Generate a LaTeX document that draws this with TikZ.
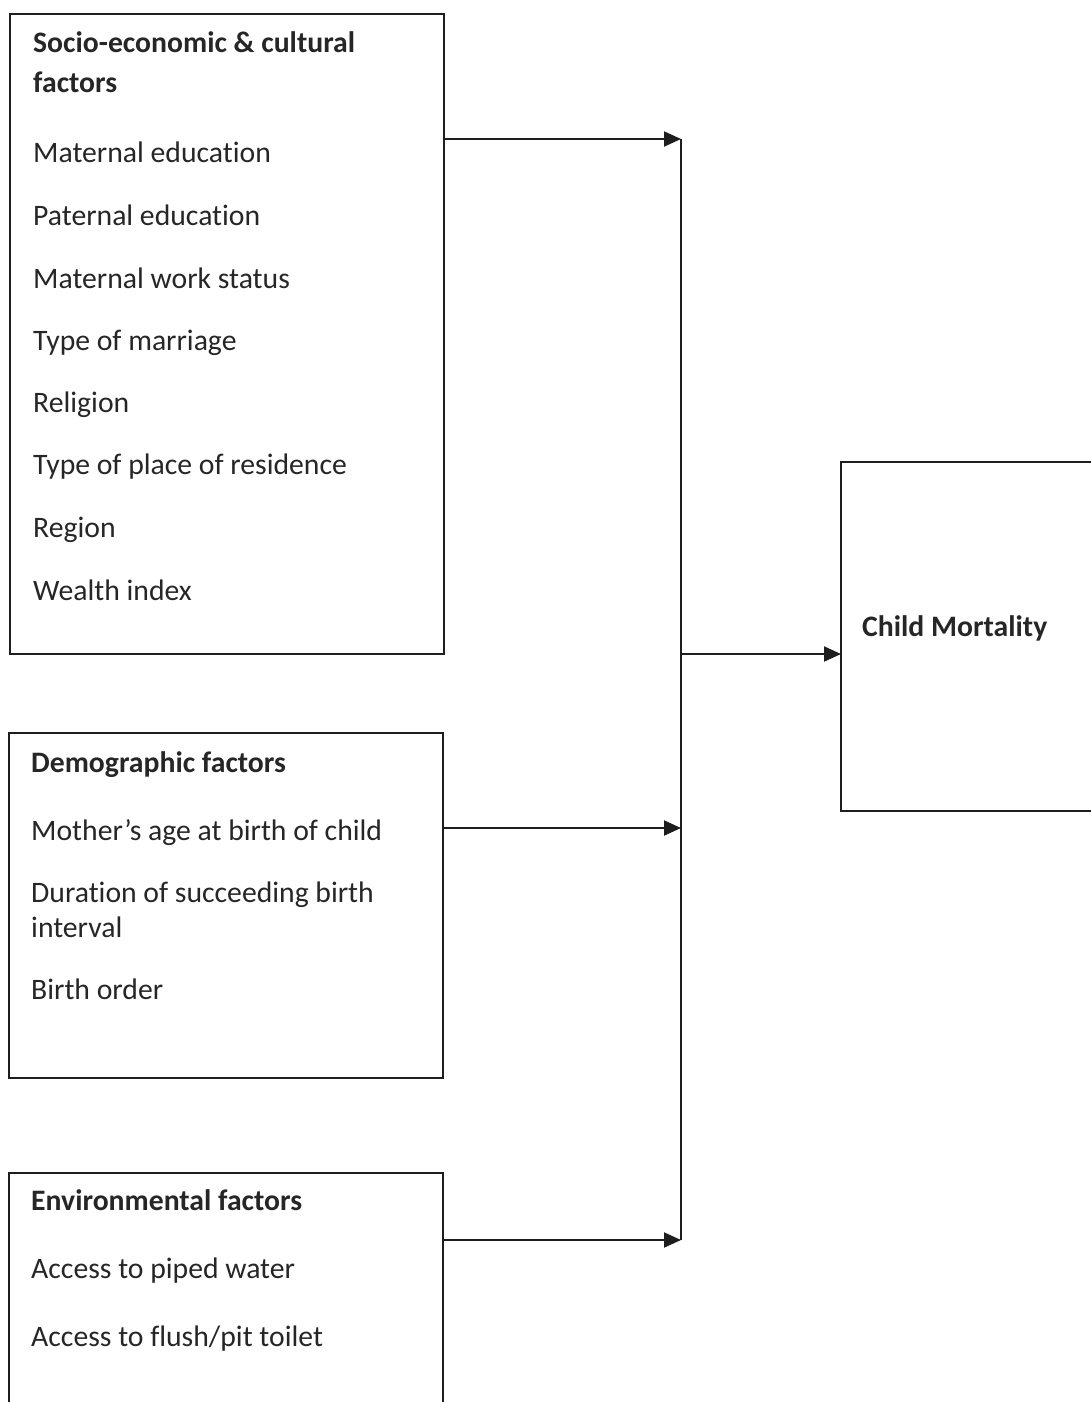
\documentclass[tikz,border=0pt]{standalone}
\usepackage{fontspec}
\setmainfont{Carlito}[Ligatures=NoCommon]
\usetikzlibrary{arrows.meta}
\definecolor{ink}{HTML}{1E1E1E}
\definecolor{txt}{HTML}{262626}
\begin{document}
\begin{tikzpicture}[x=1pt,y=-1pt,
  box/.style={draw=ink,line width=2pt,inner sep=0pt,outer sep=0pt,anchor=north west},
  lbl/.style={anchor=base west,inner sep=0pt,text=txt,font=\fontsize{29.7}{36}\selectfont},
  hd/.style={lbl,font=\fontsize{29.7}{36}\selectfont\bfseries},
  conn/.style={draw=ink,line width=2pt,-{Triangle[length=17pt,width=15pt]}},
  plain/.style={draw=ink,line width=2pt}]
\useasboundingbox (0,0) rectangle (1091,1402);
\clip (0,0) rectangle (1091,1402);
% boxes
\node[box,minimum width=434pt,minimum height=640pt] (b1) at (10,14) {};
\node[box,minimum width=434pt,minimum height=345pt] (b2) at (9,733) {};
\node[box,minimum width=434pt,minimum height=300pt] (b3) at (9,1173) {};
\node[box,minimum width=300pt,minimum height=349pt] (cm) at (841,462) {};
% texts box 1
\node[hd] (t11) at (33,53) {Socio-economic \& cultural};
\node[hd] (t12) at (33,93) {factors};
\node[lbl] (t13) at (33,162) {Maternal education};
\node[lbl] (t14) at (33,225) {Paternal education};
\node[lbl] (t15) at (33,288) {Maternal work status};
\node[lbl] (t16) at (33,350) {Type of marriage};
\node[lbl] (t17) at (33,412) {Religion};
\node[lbl] (t18) at (33,474) {Type of place of residence};
\node[lbl] (t19) at (33,537) {Region};
\node[lbl] (t110) at (33,600) {Wealth index};
% texts box 2
\node[hd] (t21) at (31,772) {Demographic factors};
\node[lbl] (t22) at (31,840) {Mother’s age at birth of child};
\node[lbl] (t23) at (31,902) {Duration of succeeding birth};
\node[lbl] (t24) at (31,937) {interval};
\node[lbl] (t25) at (31,999) {Birth order};
% texts box 3
\node[hd] (t31) at (31,1210) {Environmental factors};
\node[lbl] (t32) at (31,1278) {Access to piped water};
\node[lbl] (t33) at (31,1346) {Access to flush/pit toilet};
% outcome
\node[hd] (tcm) at (862,636) {Child Mortality};
% junctions
\coordinate (j1) at (681,139);
\coordinate (j2) at (681,828);
\coordinate (j3) at (681,1240);
\coordinate (jm) at (681,654);
\draw[plain] (j1) -- (j3);
\draw[conn] (b1.east |- j1) -- (j1);
\draw[conn] (b2.east |- j2) -- (j2);
\draw[conn] (b3.east |- j3) -- (j3);
\draw[conn] (jm) -- (cm.west |- jm);
\end{tikzpicture}
\end{document}
